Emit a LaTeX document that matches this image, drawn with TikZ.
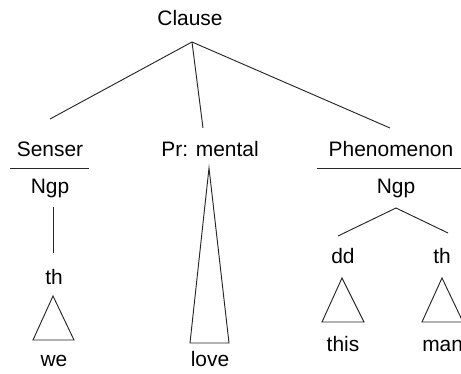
\documentclass[tikz,border=0pt]{standalone}
\usepackage{fontspec}
\setmainfont{Liberation Sans}
\usetikzlibrary{positioning}

\begin{document}
\begin{tikzpicture}[
    x=0.75pt, y=-0.75pt,
    lbl/.style={anchor=base, inner sep=0pt, font=\fontsize{15.7}{18}\selectfont},
    edge/.style={line width=0.7pt, draw=black!85}
]
    \useasboundingbox (0,0) rectangle (461,374);
    \clip (0,0) rectangle (461,374);
    % top level
    \node[lbl] (clause) at (190,26) {Clause};
    \coordinate (clausefoot) at (192,42);
    \node[lbl] (senser) at (50,157) {Senser};
    \node[lbl] (pr) at (210,157) {Pr: mental};
    \node[lbl] (phen) at (391,157) {Phenomenon};
    \coordinate (sensertop) at (50,119);
    \coordinate (prtop) at (203,128);
    \coordinate (phentop) at (390,128);
    \draw[edge] (clausefoot) -- (sensertop);
    \draw[edge] (clausefoot) -- (prtop);
    \draw[edge] (clausefoot) -- (phentop);
    % senser branch
    \draw[edge] (10,168) -- (89,168);
    \node[lbl] (ngpa) at (50,194) {Ngp};
    \node[lbl] (tha) at (54,285) {th};
    \node[lbl] (we) at (54,367) {we};
    \coordinate (ngpafoot) at (53,207);
    \coordinate (thatop) at (53,253);
    \draw[edge] (ngpafoot) -- (thatop);
    \draw[edge] (53,296) -- (74,340) -- (33,340) -- cycle;
    % process
    \node[lbl] (love) at (210,367) {love};
    \draw[edge] (209,168) -- (229,343) -- (190,343) -- cycle;
    % phenomenon branch
    \draw[edge] (317,168) -- (470,168);
    \node[lbl] (ngpb) at (396,194) {Ngp};
    \node[lbl] (dd) at (343,264) {dd};
    \node[lbl] (thb) at (442,264) {th};
    \coordinate (ngpbfoot) at (396,208);
    \coordinate (ddtop) at (338,236);
    \coordinate (thbtop) at (448,233);
    \draw[edge] (ngpbfoot) -- (ddtop);
    \draw[edge] (ngpbfoot) -- (thbtop);
    \draw[edge] (342,278) -- (364,322) -- (322,322) -- cycle;
    \draw[edge] (442,278) -- (463,322) -- (422,322) -- cycle;
    \node[lbl] (this) at (343,351) {this};
    \node[lbl, anchor=base west] (man) at (422,351) {man};
\end{tikzpicture}
\end{document}
